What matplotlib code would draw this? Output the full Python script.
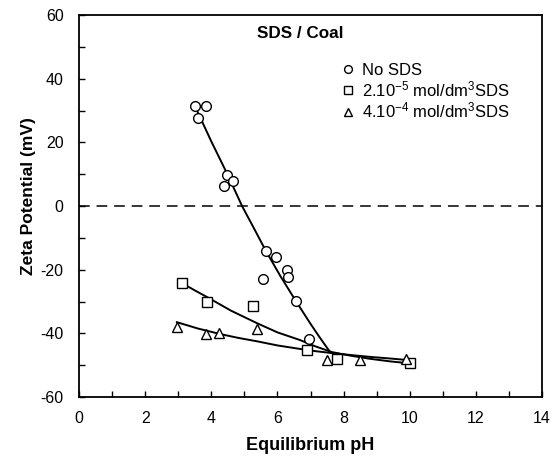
import matplotlib
matplotlib.use("Agg")
import matplotlib.pyplot as plt
from matplotlib.ticker import MultipleLocator

plt.rcParams['font.family'] = ['Liberation Sans', 'DejaVu Sans']
plt.rcParams['axes.unicode_minus'] = False
plt.rcParams['mathtext.fontset'] = 'custom'
plt.rcParams['mathtext.rm'] = 'Liberation Sans'
plt.rcParams['mathtext.it'] = 'Liberation Sans:italic'
plt.rcParams['mathtext.bf'] = 'Liberation Sans:bold'

# Data points
ph_none = [3.5, 3.6, 3.85, 4.38, 4.48, 4.66, 5.65, 5.96, 6.28, 6.31, 5.56, 6.56, 6.95]
zp_none = [31.5, 27.5, 31.5, 6.4, 9.8, 7.9, -14.1, -16.0, -20.1, -22.3, -22.9, -29.9, -41.8]

ph_low = [3.11, 3.87, 5.26, 6.9, 7.8, 10.0]
zp_low = [-24.2, -30.2, -31.4, -45.3, -48.0, -49.3]

ph_high = [2.96, 3.84, 4.23, 5.38, 7.5, 8.5, 9.9]
zp_high = [-38.0, -40.3, -40.0, -38.7, -48.4, -48.4, -48.0]

# Trend curves
curve_none_x = [3.5, 4.0, 4.5, 4.93, 5.3, 5.65, 6.1, 6.56, 7.0, 7.3, 7.6]
curve_none_y = [31.5, 20.3, 9.7, 0.0, -7.2, -14.1, -22.2, -29.9, -37.0, -41.6, -46.0]
curve_low_x = [3.11, 3.5, 3.87, 4.6, 5.38, 6.0, 6.68, 7.15, 7.65, 8.2, 8.8, 9.4, 10.05]
curve_low_y = [-24.2, -26.5, -28.6, -32.9, -36.8, -39.7, -42.1, -44.1, -45.9, -47.0, -48.0, -48.8, -49.5]
curve_high_x = [2.96, 3.6, 4.26, 4.8, 5.38, 6.0, 6.68, 7.15, 7.65, 8.2, 8.8, 9.4, 9.95]
curve_high_y = [-36.5, -38.5, -40.2, -41.4, -42.5, -43.8, -44.9, -45.6, -46.2, -46.8, -47.4, -47.9, -48.4]

labels = ['No SDS',
          r'2.10$^{\mathrm{-5}}$ mol/dm$^{\mathrm{3}}$SDS',
          r'4.10$^{\mathrm{-4}}$ mol/dm$^{\mathrm{3}}$SDS']

fig = plt.figure(figsize=(5.53, 4.57), dpi=100)
ax = fig.add_axes([79/553, 1 - 397/457, (542-79)/553, (397-15)/457])

ax.axhline(0, color='black', lw=1.1, dashes=(7, 4.5))

ax.plot(curve_none_x, curve_none_y, color='black', lw=1.4)
ax.plot(curve_low_x, curve_low_y, color='black', lw=1.4)
ax.plot(curve_high_x, curve_high_y, color='black', lw=1.4)

ms = 7
h1, = ax.plot(ph_none, zp_none, 'o', mfc='white', mec='black', mew=1.0, ms=ms, ls='none', label=labels[0])
h2, = ax.plot(ph_low, zp_low, 's', mfc='white', mec='black', mew=1.0, ms=ms - 0.5, ls='none', label=labels[1])
h3, = ax.plot(ph_high, zp_high, '^', mfc='white', mec='black', mew=1.0, ms=ms, ls='none', label=labels[2])

ax.set_xlim(0, 14)
ax.set_ylim(-60, 60)
ax.xaxis.set_major_locator(MultipleLocator(2))
ax.xaxis.set_minor_locator(MultipleLocator(1))
ax.yaxis.set_major_locator(MultipleLocator(20))
ax.yaxis.set_minor_locator(MultipleLocator(10))
ax.tick_params(which='both', direction='in', top=False, right=False, labelsize=11.5, width=1.0)
ax.tick_params(which='major', length=4)
ax.tick_params(which='minor', length=4)
ax.tick_params(axis='x', which='major', pad=10)
ax.tick_params(axis='y', which='major', pad=11)
for s in ax.spines.values():
    s.set_linewidth(1.3)

ax.set_xlabel('Equilibrium pH', fontsize=13, fontweight='bold', labelpad=8)
ax.set_ylabel('Zeta Potential (mV)', fontsize=12.5, fontweight='bold', labelpad=3)
ax.yaxis.label.set_y(0.526)

ax.text(5.38, 54.3, 'SDS / Coal', fontsize=12.3, fontweight='bold', ha='left', va='center')

leg = ax.legend(handles=[h1, h2, h3], loc='upper left', bbox_to_anchor=(261/463, 1 - 48/382),
                frameon=False, fontsize=12, handletextpad=0.35, labelspacing=0.08,
                handlelength=1.0, markerscale=0.8, borderaxespad=0, borderpad=0)

fig.savefig('out.png', dpi=100)
